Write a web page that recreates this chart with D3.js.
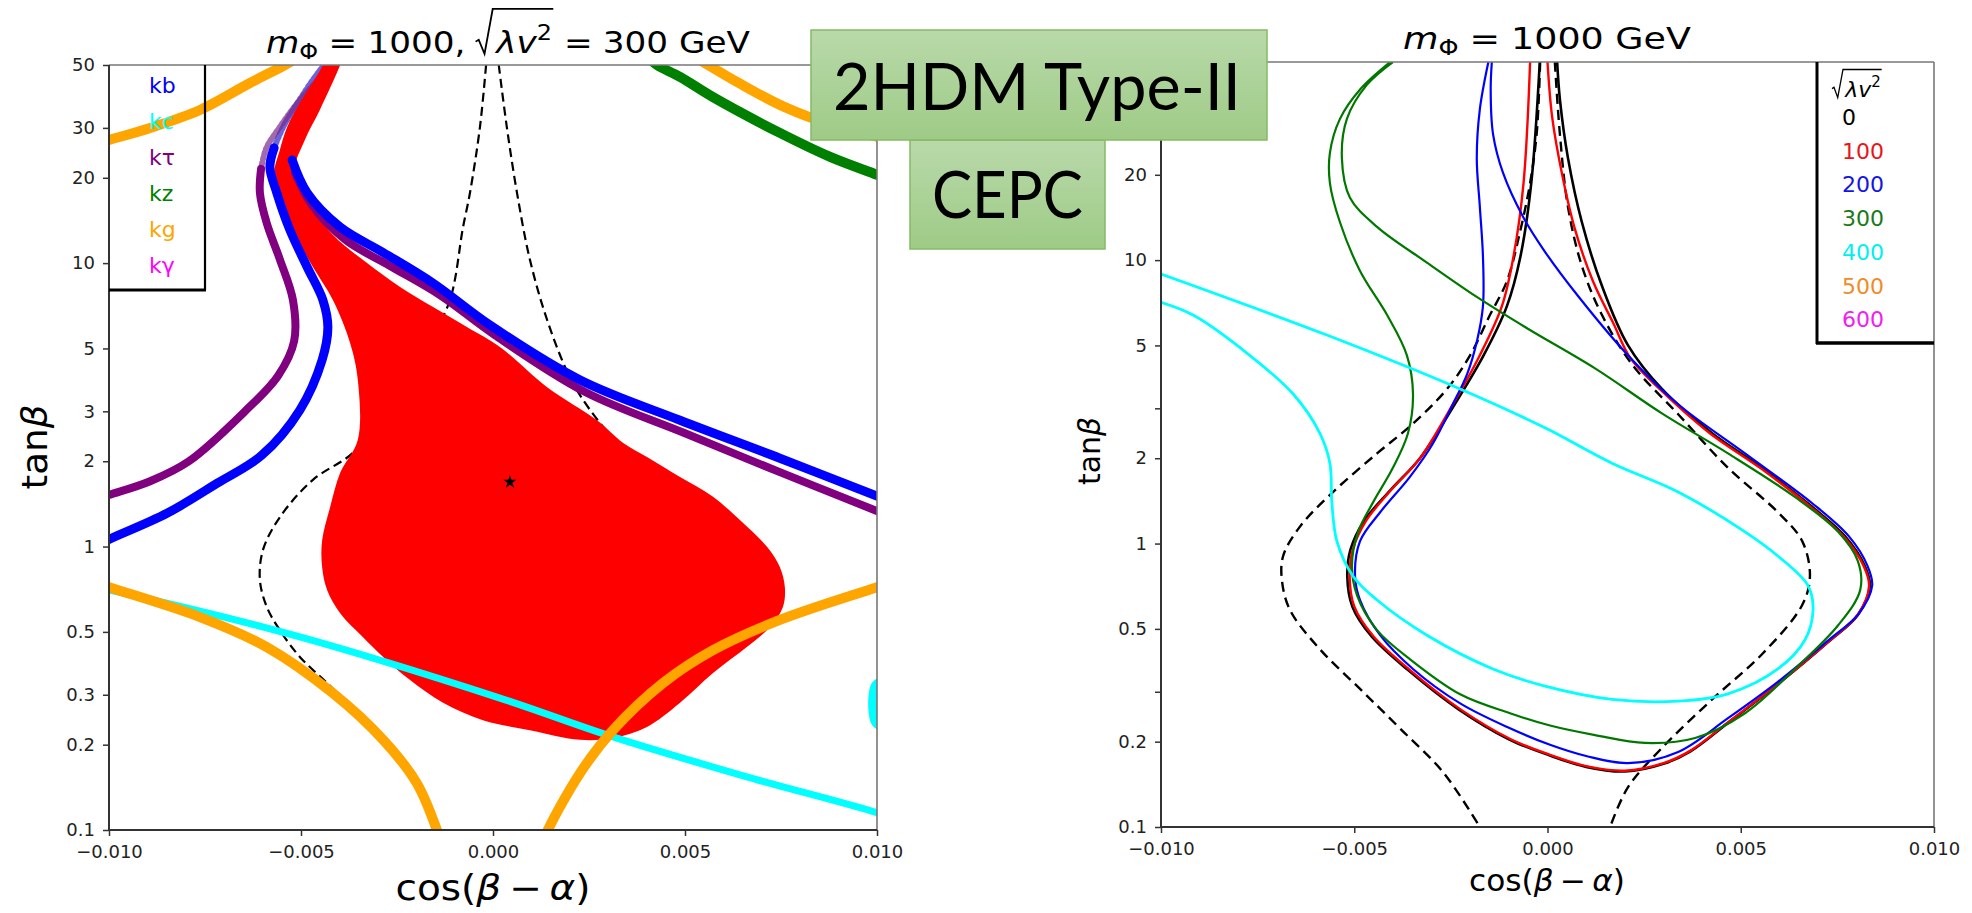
<!DOCTYPE html>
<html><head><meta charset="utf-8">
<script src="https://cdn.jsdelivr.net/npm/d3@7/dist/d3.min.js"></script>
<style>html,body{margin:0;padding:0;background:#fff}svg{display:block}</style>
</head><body>
<svg id="chart" width="1972" height="913" xmlns="http://www.w3.org/2000/svg"></svg>
<script>
// ---------------- DATA ----------------
const xDomain = [-0.01, 0.01];
const yDomain = [0.1, 50];
const xTicks = [-0.01, -0.005, 0, 0.005, 0.01];
const yTicksLeft = [0.1, 0.2, 0.3, 0.5, 1, 2, 3, 5, 10, 20, 30, 50];
const yTicksRight = [0.1, 0.2, 0.5, 1, 2, 5, 10, 20];
const yMinorRight = [0.3, 3, 30, 50];

// Left panel: m_Phi = 1000, sqrt(lambda v^2) = 300 GeV   [cos(beta-alpha), tan(beta)]
const kbLeft = [[-10.6e-3,0.97],[-10.0e-3,1.06],[-8.49e-3,1.31],[-7.19e-3,1.67],[-6.02e-3,2.10],[-5.03e-3,3.03],[-4.45e-3,4.55],[-4.30e-3,5.95],[-4.43e-3,7.41],[-4.84e-3,9.69],[-5.29e-3,13.1],[-5.63e-3,17.7],[-5.81e-3,21.8],[-5.70e-3,25.5]];
const kbLeftUpper = [[-5.70e-3,25.5],[-5.45e-3,30.5],[-5.10e-3,36.5],[-4.69e-3,44.3],[-4.30e-3,52]];
const kbRight = [[-5.23e-3,23.1],[-4.84e-3,17.7],[-3.98e-3,13.4],[-2.86e-3,10.9],[-1.56e-3,8.5],[-0.08e-3,6.05],[2.27e-3,3.87],[4.87e-3,2.79],[7.47e-3,2.05],[10.03e-3,1.50],[10.6e-3,1.40]];
const ktauLeft = [[-10.6e-3,1.43],[-10.0e-3,1.52],[-8.93e-3,1.70],[-7.92e-3,2.0],[-6.46e-3,3.0],[-5.6e-3,4.0],[-5.18e-3,5.3],[-5.21e-3,7.41],[-5.55e-3,10.3],[-5.89e-3,13.8],[-6.07e-3,17.7],[-6.04e-3,21.5]];
const ktauLeftUpper = [[-6.04e-3,21.5],[-5.90e-3,25.5],[-5.55e-3,30.2],[-5.03e-3,37.6],[-4.24e-3,49],[-4.0e-3,53]];
const ktauRight = [[-5.16e-3,20.9],[-4.71e-3,16.0],[-3.85e-3,12.1],[-2.68e-3,9.77],[-1.38e-3,7.71],[0.05e-3,5.57],[2.40e-3,3.51],[5.0e-3,2.51],[7.47e-3,1.83],[10.03e-3,1.33],[10.6e-3,1.24]];
const kgTopLeft = [[-10.6e-3,25.8],[-10.0e-3,27.2],[-8.93e-3,30.0],[-7.63e-3,34.7],[-6.33e-3,43.2],[-5.42e-3,50],[-5.0e-3,54]];
const kgTopRight = [[5.2e-3,54],[5.6e-3,50],[6.4e-3,43.2],[7.6e-3,35.5],[8.9e-3,30.5],[10.0e-3,27.9],[10.6e-3,26.3]];
const kgBotLeft = [[-10.6e-3,0.766],[-10.0e-3,0.719],[-7.63e-3,0.564],[-5.89e-3,0.442],[-4.17e-3,0.304],[-2.86e-3,0.208],[-1.98e-3,0.146],[-1.46e-3,0.1],[-1.35e-3,0.09]];
const kgBotRight = [[1.3e-3,0.09],[1.43e-3,0.1],[2.27e-3,0.159],[3.125e-3,0.225],[4.43e-3,0.330],[5.73e-3,0.431],[7.47e-3,0.551],[10.0e-3,0.719],[10.6e-3,0.766]];
const kz = [[4.0e-3,54],[4.27e-3,50],[4.87e-3,45.4],[5.73e-3,38.5],[7.47e-3,28.8],[8.78e-3,23.7],[10.0e-3,20.5],[10.6e-3,19.1]];
const kc = [[-10.6e-3,0.73],[-10.0e-3,0.703],[-5.03e-3,0.480],[0.18e-3,0.292],[3.125e-3,0.213],[6.61e-3,0.154],[10.0e-3,0.115],[10.6e-3,0.107]];
const kcBlob = [[10.3e-3,0.346],[9.9e-3,0.335],[9.77e-3,0.281],[9.9e-3,0.232],[10.3e-3,0.225]];
const allowedRegion = [[-4.3e-3,56],[-4.43e-3,50],[-5.03e-3,36.7],[-5.36e-3,30.2],[-5.55e-3,25.1],[-5.70e-3,20.5],[-5.49e-3,16.0],[-5.16e-3,12.6],[-4.69e-3,9.69],[-4.17e-3,7.41],[-3.72e-3,5.22],[-3.52e-3,3.87],[-3.52e-3,2.38],[-3.98e-3,1.82],[-4.24e-3,1.38],[-4.45e-3,1.05],[-4.45e-3,0.847],[-4.32e-3,0.703],[-3.98e-3,0.582],[-3.39e-3,0.480],[-2.86e-3,0.408],[-2.16e-3,0.338],[-1.30e-3,0.281],[-0.26e-3,0.244],[0.96e-3,0.225],[2.27e-3,0.208],[3.125e-3,0.211],[4.01e-3,0.231],[4.87e-3,0.281],[5.73e-3,0.358],[6.61e-3,0.442],[7.21e-3,0.520],[7.55e-3,0.612],[7.60e-3,0.720],[7.47e-3,0.847],[7.14e-3,0.996],[6.43e-3,1.24],[5.73e-3,1.50],[4.87e-3,1.76],[4.01e-3,2.07],[3.39e-3,2.32],[2.71e-3,2.79],[1.41e-3,3.65],[0.18e-3,5.06],[-0.68e-3,5.95],[-1.56e-3,7.0],[-2.42e-3,8.24],[-3.28e-3,10.0],[-4.17e-3,12.6],[-4.84e-3,16.7],[-5.16e-3,21.3],[-4.90e-3,27.2],[-4.51e-3,34.7],[-3.98e-3,50],[-3.85e-3,56]];
const dashLeftA = [[-0.18e-3,50],[-0.34e-3,30.2],[-0.60e-3,17.7],[-0.78e-3,13.4],[-1.12e-3,7.41],[-1.6e-3,5.5],[-2.3e-3,3.9],[-3.0e-3,2.8],[-3.65e-3,2.14],[-4.69e-3,1.72],[-5.55e-3,1.27],[-5.99e-3,0.973],[-6.07e-3,0.762],[-5.89e-3,0.612],[-5.55e-3,0.507],[-5.03e-3,0.408],[-4.32e-3,0.330],[-3.95e-3,0.295]];
const dashLeftB = [[0.15e-3,50],[0.36e-3,30.2],[0.625e-3,17.7],[0.96e-3,10.3],[1.41e-3,6.3],[2.0e-3,3.96],[2.53e-3,3.03],[3.39e-3,2.19],[3.7e-3,2.0]];
const bestFit = [[0.44e-3,1.69]];
const legendLeft = ["kb","kc","kτ","kz","kg","kγ"];
const legendLeftColors = ["#0000ff","#00ffff","#800080","#008000","#ffa500","#ff00ff"];

// Right panel: m_Phi = 1000 GeV, curves for sqrt(lambda v^2) = 0 ... 400
const lam0 = [[-0.20e-3,50],[-0.42e-3,18.7],[-0.70e-3,10.3],[-1.05e-3,6.88],[-1.65e-3,4.62],[-2.40e-3,3.10],[-3.30e-3,2.00],[-4.05e-3,1.55],[-4.75e-3,1.20],[-5.10e-3,0.95],[-5.18e-3,0.767],[-5.05e-3,0.60],[-4.55e-3,0.47],[-3.60e-3,0.357],[-2.30e-3,0.26],[-1.00e-3,0.204],[0.00e-3,0.180],[1.00e-3,0.163],[2.00e-3,0.157],[3.00e-3,0.167],[3.70e-3,0.185],[4.67e-3,0.233],[5.96e-3,0.319],[7.26e-3,0.449],[8.03e-3,0.56],[8.34e-3,0.708],[8.21e-3,0.834],[7.70e-3,1.06],[6.84e-3,1.35],[5.55e-3,1.85],[4.26e-3,2.45],[2.96e-3,3.51],[2.08e-3,5.01],[1.41e-3,8.1],[0.89e-3,13.6],[0.53e-3,22.9],[0.32e-3,37],[0.25e-3,50]];
const lam100 = [[-0.45e-3,50],[-0.62e-3,18.7],[-0.88e-3,10.3],[-1.18e-3,6.88],[-1.75e-3,4.62],[-2.45e-3,3.10],[-3.30e-3,2.00],[-4.02e-3,1.56],[-4.70e-3,1.20],[-5.04e-3,0.95],[-5.12e-3,0.767],[-5.00e-3,0.60],[-4.50e-3,0.47],[-3.55e-3,0.357],[-2.25e-3,0.26],[-0.95e-3,0.204],[0.00e-3,0.181],[1.00e-3,0.164],[2.00e-3,0.158],[3.00e-3,0.168],[3.70e-3,0.186],[4.67e-3,0.234],[5.96e-3,0.32],[7.26e-3,0.45],[8.03e-3,0.562],[8.32e-3,0.708],[8.18e-3,0.834],[7.66e-3,1.06],[6.80e-3,1.35],[5.50e-3,1.85],[4.20e-3,2.45],[2.90e-3,3.51],[2.15e-3,4.5],[1.70e-3,6.0],[1.18e-3,8.4],[0.70e-3,13.0],[0.38e-3,20],[0.12e-3,32],[0.0e-3,50]];
const lam200 = [[-1.53e-3,50],[-1.75e-3,34.1],[-1.83e-3,22.9],[-1.75e-3,15.4],[-1.67e-3,10.3],[-1.67e-3,6.88],[-1.82e-3,5.22],[-2.08e-3,3.96],[-2.45e-3,3.10],[-2.96e-3,2.26],[-3.56e-3,1.72],[-4.33e-3,1.29],[-4.85e-3,1.02],[-4.98e-3,0.767],[-4.85e-3,0.632],[-4.33e-3,0.475],[-3.48e-3,0.361],[-2.26e-3,0.273],[-0.97e-3,0.223],[0.065e-3,0.195],[1.0e-3,0.178],[2.08e-3,0.168],[3.38e-3,0.184],[4.67e-3,0.242],[5.96e-3,0.325],[7.26e-3,0.455],[8.05e-3,0.565],[8.40e-3,0.71],[8.28e-3,0.834],[7.80e-3,1.06],[6.84e-3,1.39],[5.11e-3,2.08],[3.38e-3,3.10],[2.08e-3,4.62],[0.79e-3,7.47],[-0.065e-3,10.7],[-0.63e-3,14.2],[-1.15e-3,20.3],[-1.41e-3,27.9],[-1.47e-3,40],[-1.44e-3,50]];
const lam300 = [[-4.07e-3,50],[-4.85e-3,40],[-5.37e-3,31.5],[-5.63e-3,23.9],[-5.63e-3,18.7],[-5.37e-3,13.6],[-4.85e-3,9.16],[-4.15e-3,6.40],[-3.64e-3,4.62],[-3.48e-3,3.37],[-3.61e-3,2.45],[-4.0e-3,1.85],[-4.51e-3,1.40],[-4.90e-3,1.10],[-5.06e-3,0.834],[-4.93e-3,0.658],[-4.41e-3,0.495],[-3.56e-3,0.391],[-2.26e-3,0.294],[-0.97e-3,0.252],[0.065e-3,0.228],[1.23e-3,0.211],[2.52e-3,0.198],[3.82e-3,0.206],[5.11e-3,0.252],[6.40e-3,0.361],[7.52e-3,0.515],[8.09e-3,0.685],[8.03e-3,0.867],[7.52e-3,1.10],[6.40e-3,1.46],[4.67e-3,2.08],[2.96e-3,2.88],[1.23e-3,4.15],[-0.53e-3,5.75],[-1.82e-3,7.4],[-3.12e-3,9.8],[-4.41e-3,13.1],[-5.11e-3,16.6],[-5.32e-3,22.9],[-5.19e-3,31.5],[-4.67e-3,41.6],[-4.0e-3,50]];
const lam400 = [[-10.0e-3,7.1],[-9.17e-3,6.40],[-7.88e-3,4.82],[-6.58e-3,3.37],[-5.89e-3,2.45],[-5.63e-3,1.92],[-5.58e-3,1.40],[-5.45e-3,1.02],[-5.03e-3,0.767],[-4.41e-3,0.632],[-3.12e-3,0.475],[-1.41e-3,0.361],[-0.065e-3,0.314],[1.67e-3,0.282],[3.38e-3,0.278],[4.67e-3,0.295],[5.96e-3,0.361],[6.66e-3,0.457],[6.87e-3,0.582],[6.74e-3,0.711],[5.96e-3,0.904],[5.11e-3,1.10],[3.38e-3,1.52],[1.67e-3,1.92],[-0.065e-3,2.56],[-2.26e-3,3.51],[-5.71e-3,5.44],[-10.0e-3,8.93]];
const dashRightA = [[-0.19e-3,50],[-0.28e-3,27.9],[-0.45e-3,18.7],[-0.71e-3,12.6],[-1.05e-3,8.43],[-1.49e-3,6.40],[-2.0e-3,4.62],[-2.60e-3,3.51],[-3.48e-3,2.65],[-4.41e-3,2.08],[-5.55e-3,1.52],[-6.40e-3,1.15],[-6.84e-3,0.904],[-6.87e-3,0.740],[-6.66e-3,0.582],[-5.89e-3,0.424],[-4.85e-3,0.307],[-3.82e-3,0.223],[-2.70e-3,0.156],[-1.75e-3,0.1]];
const dashRightB = [[0.19e-3,50],[0.32e-3,27.9],[0.53e-3,15.4],[0.89e-3,9.53],[1.41e-3,6.40],[2.19e-3,4.28],[3.38e-3,2.86],[4.67e-3,1.85],[5.96e-3,1.29],[6.59e-3,1.02],[6.79e-3,0.767],[6.59e-3,0.607],[5.55e-3,0.407],[4.26e-3,0.282],[2.96e-3,0.190],[2.08e-3,0.138],[1.62e-3,0.1]];
const legendRightLabels = ["0","100","200","300","400","500","600"];
const legendRightColors = ["#000000","#e8151b","#1414e6","#1a7a1a","#00f0f0","#f08c28","#f020f0"];

// ---------------- DRAW ----------------
const svg = d3.select('#chart');
const F = 'DejaVu Sans';
const defs = svg.append('defs');

function panel(x0, x1, y0, y1, id) {
  const P = {x0, x1, y0, y1,
    x: d3.scaleLinear().domain(xDomain).range([x0, x1]),
    y: d3.scaleLog().domain(yDomain).range([y1, y0])};
  defs.append('clipPath').attr('id', id).append('rect')
    .attr('x', x0).attr('y', y0).attr('width', x1 - x0).attr('height', y1 - y0);
  P.g = svg.append('g');
  P.plot = P.g.append('g').attr('clip-path', `url(#${id})`);
  P.line = d3.line().x(d => P.x(d[0])).y(d => P.y(d[1])).curve(d3.curveCatmullRom.alpha(0.5));
  return P;
}
const A = panel(109, 877, 65, 830, 'clipA');
const B = panel(1161, 1934, 62, 827, 'clipB');

function stroke(P, data, color, w, o = {}) {
  P.plot.append('path').attr('d', P.line(data)).attr('fill', 'none')
    .attr('stroke', color).attr('stroke-width', w)
    .attr('stroke-linecap', o.cap || 'butt').attr('stroke-linejoin', 'round')
    .attr('stroke-dasharray', o.dash || null).attr('opacity', o.op || 1);
}

// Left panel marks
stroke(A, dashLeftA, '#000', 2.2, {dash: '9,5'});
stroke(A, dashLeftB, '#000', 2.2, {dash: '9,5'});
stroke(A, kbLeftUpper, '#3a2fd0', 6, {cap: 'round', dash: '2,3', op: 0.75});
stroke(A, ktauLeftUpper, '#7a2a8a', 6, {cap: 'round', dash: '2,3', op: 0.7});
A.plot.append('path')
  .attr('d', d3.line().x(d => A.x(d[0])).y(d => A.y(d[1])).curve(d3.curveCatmullRomClosed.alpha(0.5))(allowedRegion))
  .attr('fill', '#ff0000');
stroke(A, ktauLeft, '#800080', 8, {cap: 'round'});
stroke(A, ktauRight, '#800080', 8, {cap: 'round'});
stroke(A, kbLeft, '#0000ff', 9, {cap: 'round'});
stroke(A, kbRight, '#0000ff', 9, {cap: 'round'});
stroke(A, kc, '#00ffff', 7);
A.plot.append('path')
  .attr('d', d3.line().x(d => A.x(d[0])).y(d => A.y(d[1])).curve(d3.curveCatmullRomClosed.alpha(0.5))(kcBlob))
  .attr('fill', '#00ffff');
stroke(A, kgBotLeft, '#ffa500', 10);
stroke(A, kgBotRight, '#ffa500', 10);
stroke(A, kgTopLeft, '#ffa500', 10);
stroke(A, kgTopRight, '#ffa500', 10);
stroke(A, kz, '#008000', 10);
A.plot.selectAll('path.star').data(bestFit).join('path').attr('class', 'star')
  .attr('d', d3.symbol(d3.symbolStar, 55)())
  .attr('transform', d => `translate(${A.x(d[0])},${A.y(d[1])})`).attr('fill', '#000');

// Right panel marks
stroke(B, dashRightA, '#000', 2.4, {dash: '10,6'});
stroke(B, dashRightB, '#000', 2.4, {dash: '10,6'});
stroke(B, lam0, '#000', 2.6);
stroke(B, lam100, '#ff0000', 2.4);
stroke(B, lam200, '#0000ff', 2.2);
stroke(B, lam300, '#007800', 2.2);
stroke(B, lam400, '#00ffff', 2.8);

// Axes
function axes(P, yVals, yMinor) {
  const gx = P.g.append('g').attr('transform', `translate(0,${P.y1})`)
    .call(d3.axisBottom(P.x).tickValues(xTicks).tickFormat(d3.format('.3f')).tickSize(6).tickPadding(9));
  const gy = P.g.append('g').attr('transform', `translate(${P.x0},0)`)
    .call(d3.axisLeft(P.y).tickValues(yVals.concat(yMinor))
      .tickFormat(d => yMinor.includes(d) ? '' : d3.format('~g')(d)).tickSize(6).tickPadding(8));
  [gx, gy].forEach(g => {
    g.select('.domain').remove();
    g.attr('font-family', F).attr('font-size', 18);
    g.selectAll('.tick line').attr('stroke', '#333').attr('stroke-width', 1.5);
    g.selectAll('.tick text').attr('fill', '#222');
  });
  const sp = P.g.append('g').attr('fill', 'none');
  sp.append('line').attr('x1', P.x0).attr('x2', P.x1).attr('y1', P.y0).attr('y2', P.y0).attr('stroke', '#777').attr('stroke-width', 1.6);
  sp.append('line').attr('x1', P.x1).attr('x2', P.x1).attr('y1', P.y0).attr('y2', P.y1).attr('stroke', '#777').attr('stroke-width', 1.6);
  sp.append('line').attr('x1', P.x0).attr('x2', P.x1).attr('y1', P.y1).attr('y2', P.y1).attr('stroke', '#333').attr('stroke-width', 2);
  sp.append('line').attr('x1', P.x0).attr('x2', P.x0).attr('y1', P.y0).attr('y2', P.y1).attr('stroke', '#333').attr('stroke-width', 2);
}
axes(A, yTicksLeft, []);
axes(B, yTicksRight, yMinorRight);

// Math-like text layout helper
function mathText(parts, o) {
  const g = svg.append('g');
  const inner = g.append('g');
  let x = 0, radStart = 0;
  const S = o.size;
  parts.forEach(p => {
    const s = p.s || S;
    if (p.gap !== undefined) { x += p.gap * S; return; }
    if (p.rad) { radStart = x; x += S * 0.6; return; }
    if (p.radEnd) {
      const top = -o.radTop * S, x0 = radStart;
      inner.append('path')
        .attr('d', `M${x0},${-0.38 * S} L${x0 + 0.09 * S},${-0.44 * S} L${x0 + 0.26 * S},${0.03 * S} L${x0 + 0.5 * S},${top} L${x + 0.04 * S},${top}`)
        .attr('fill', 'none').attr('stroke', o.color || '#000').attr('stroke-width', o.radW || 1.6);
      x += 0.05 * S; return;
    }
    const t = inner.append('text').attr('x', x).attr('y', p.dy || 0)
      .attr('font-family', F).attr('font-size', s)
      .attr('font-style', p.it ? 'italic' : 'normal').attr('fill', o.color || '#000').text(p.t);
    x += t.node().getComputedTextLength();
  });
  const k = o.width ? o.width / x : 1;
  if (o.rotate) g.attr('transform', `translate(${o.bx},${o.cy}) rotate(-90) scale(${k},1) translate(${-x / 2},0)`);
  else if (o.left !== undefined) g.attr('transform', `translate(${o.left},${o.base}) scale(${k},1)`);
  else g.attr('transform', `translate(${o.cx},${o.base}) scale(${k},1) translate(${-x / 2},0)`);
  return g;
}

// Titles
mathText([{t: 'm', it: 1}, {t: 'Φ', s: 21, dy: 6}, {gap: 0.3}, {t: '='}, {gap: 0.3}, {t: '1000,'}, {gap: 0.3},
  {rad: 1}, {t: 'λv', it: 1}, {t: '2', s: 21, dy: -13}, {radEnd: 1}, {gap: 0.3}, {t: '='}, {gap: 0.3}, {t: '300 GeV'}],
  {size: 30, cx: 508, base: 53, width: 484, radTop: 1.47});
mathText([{t: 'm', it: 1}, {t: 'Φ', s: 21, dy: 6}, {gap: 0.3}, {t: '='}, {gap: 0.3}, {t: '1000 GeV'}],
  {size: 30, cx: 1547, base: 49, width: 288});

// Axis labels
mathText([{t: 'cos('}, {t: 'β', it: 1}, {gap: 0.2}, {t: '−'}, {gap: 0.2}, {t: 'α', it: 1}, {t: ')'}],
  {size: 35, cx: 493, base: 900, width: 195});
mathText([{t: 'cos('}, {t: 'β', it: 1}, {gap: 0.2}, {t: '−'}, {gap: 0.2}, {t: 'α', it: 1}, {t: ')'}],
  {size: 30, cx: 1547, base: 891, width: 156});
mathText([{t: 'tan'}, {t: 'β', it: 1}], {size: 35, rotate: 1, bx: 47, cy: 447, width: 85});
mathText([{t: 'tan'}, {t: 'β', it: 1}], {size: 30, rotate: 1, bx: 1100, cy: 451, width: 68});

// Left legend
const lg = svg.append('g');
lg.selectAll('text').data(legendLeft).join('text')
  .attr('x', 149).attr('y', (d, i) => 93 + i * 36)
  .attr('font-family', F).attr('font-size', 22)
  .attr('fill', (d, i) => legendLeftColors[i]).text(d => d);
lg.append('line').attr('x1', 205).attr('x2', 205).attr('y1', 65).attr('y2', 290).attr('stroke', '#000').attr('stroke-width', 2.2);
lg.append('line').attr('x1', 109).attr('x2', 206).attr('y1', 290).attr('y2', 290).attr('stroke', '#000').attr('stroke-width', 3);

// Right legend
const rg = svg.append('g');
rg.append('line').attr('x1', 1817).attr('x2', 1817).attr('y1', 62).attr('y2', 344).attr('stroke', '#000').attr('stroke-width', 3);
rg.append('line').attr('x1', 1816).attr('x2', 1934).attr('y1', 343).attr('y2', 343).attr('stroke', '#000').attr('stroke-width', 3.5);
mathText([{rad: 1}, {t: 'λv', it: 1}, {t: '2', s: 15, dy: -10}, {radEnd: 1}],
  {size: 22, left: 1832, base: 97, radTop: 1.25, radW: 1.3});
rg.selectAll('text.lr').data(legendRightLabels).join('text').attr('class', 'lr')
  .attr('x', 1842).attr('y', (d, i) => 125 + i * 33.7)
  .attr('font-family', F).attr('font-size', 22)
  .attr('fill', (d, i) => legendRightColors[i]).text(d => d);

// Green labels
const gr = defs.append('linearGradient').attr('id', 'gbox').attr('x1', 0).attr('y1', 0).attr('x2', 0).attr('y2', 1);
gr.append('stop').attr('offset', 0).attr('stop-color', '#b9d9aa');
gr.append('stop').attr('offset', 1).attr('stop-color', '#9ecb86');
svg.append('rect').attr('x', 910).attr('y', 140).attr('width', 195).attr('height', 109)
  .attr('fill', 'url(#gbox)').attr('stroke', '#84bb65').attr('stroke-width', 1.5);
svg.append('rect').attr('x', 811).attr('y', 30).attr('width', 456).attr('height', 110)
  .attr('fill', 'url(#gbox)').attr('stroke', '#84bb65').attr('stroke-width', 1.5);
svg.append('text').attr('x', 833).attr('y', 110).attr('font-family', 'Lato').attr('font-size', 66)
  .attr('textLength', 408).attr('lengthAdjust', 'spacingAndGlyphs').attr('fill', '#000').text('2HDM Type-II');
svg.append('text').attr('x', 932).attr('y', 218).attr('font-family', 'Lato').attr('font-size', 65)
  .attr('textLength', 151).attr('lengthAdjust', 'spacingAndGlyphs').attr('fill', '#000').text('CEPC');
</script>
</body></html>
